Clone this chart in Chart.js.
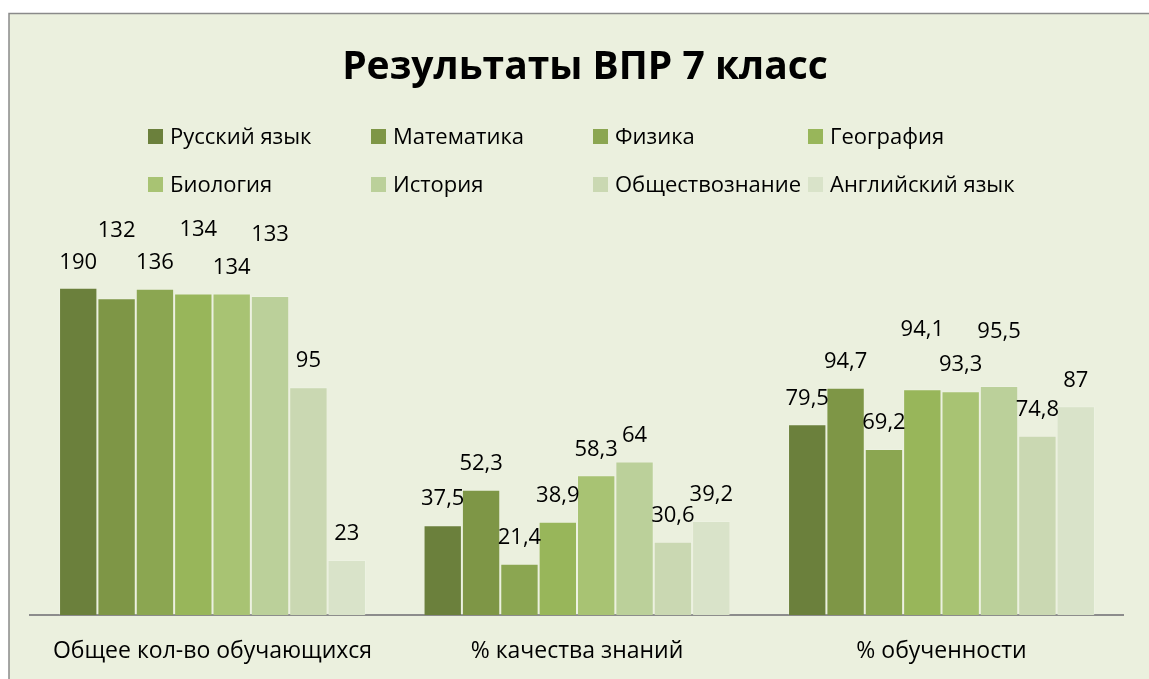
<!DOCTYPE html>
<html>
<head>
<meta charset="utf-8">
<script src="https://cdn.jsdelivr.net/npm/chart.js@4.4.1/dist/chart.umd.min.js"></script>
<style>
  html, body { margin: 0; padding: 0; background: #ffffff; }
  #wrap { width: 1149px; height: 679px; position: relative; }
</style>
</head>
<body>
<div id="wrap"><canvas id="c" width="1149" height="679"></canvas></div>
<script>
// ---- data ----
const chartTitle = 'Результаты ВПР 7 класс';
const categories = ['Общее кол-во обучающихся', '% качества знаний', '% обученности'];
const seriesNames = ['Русский язык', 'Математика', 'Физика', 'География', 'Биология', 'История', 'Обществознание', 'Английский язык'];
const russian   = [190, 37.5, 79.5];
const math      = [132, 52.3, 94.7];
const physics   = [136, 21.4, 69.2];
const geography = [134, 38.9, 94.1];
const biology   = [134, 58.3, 93.3];
const history   = [133, 64, 95.5];
const social    = [95, 30.6, 74.8];
const english   = [23, 39.2, 87];
const axisMin = 0;
const axisMax = 136;

const seriesValues = [russian, math, physics, geography, biology, history, social, english];
const colors = ['#6b803c', '#7e9646', '#8ba651', '#98b65a', '#a8c373', '#bbd09a', '#cad8b2', '#d9e3c9'];

const FONT = "'Open Sans', 'Noto Sans', sans-serif";
const BG = '#ebf0de';

// manual label nudges (dataset index - point index): [dx, dy]
const labelNudges = { '1-0': [0, -42], '3-0': [5, -38], '5-0': [0, -35], '3-2': [0, -34], '5-2': [0, -28] };

const framePlugin = {
  id: 'frame',
  beforeDraw(chart) {
    const ctx = chart.ctx;
    ctx.save();
    ctx.fillStyle = '#ffffff';
    ctx.fillRect(0, 0, chart.width, chart.height);
    ctx.fillStyle = BG;
    ctx.fillRect(9, 13, chart.width - 9, chart.height - 13);
    ctx.strokeStyle = '#8a8a8a';
    ctx.lineWidth = 1.5;
    ctx.beginPath();
    ctx.moveTo(9, chart.height);
    ctx.lineTo(9, 13.5);
    ctx.lineTo(chart.width, 13.5);
    ctx.stroke();
    ctx.restore();
  }
};

const titlePlugin = {
  id: 'freeTitle',
  afterDraw(chart) {
    const ctx = chart.ctx;
    ctx.save();
    ctx.font = 'bold 39px ' + FONT;
    ctx.fillStyle = '#000000';
    ctx.textAlign = 'center';
    ctx.textBaseline = 'alphabetic';
    ctx.fillText(chartTitle, 585, 78.5);
    ctx.restore();
  }
};

const legendPlugin = {
  id: 'gridLegend',
  afterDraw(chart) {
    const ctx = chart.ctx;
    const colX = [148, 371, 593, 808];
    const rowY = [136.5, 184.5];
    ctx.save();
    ctx.font = '22px ' + FONT;
    ctx.textBaseline = 'middle';
    ctx.textAlign = 'left';
    chart.data.datasets.forEach((ds, i) => {
      const x = colX[i % 4];
      const y = rowY[Math.floor(i / 4)];
      ctx.fillStyle = ds.backgroundColor;
      ctx.fillRect(x, y - 7.5, 15, 15);
      ctx.fillStyle = '#000000';
      ctx.fillText(ds.label, x + 22, y + 1);
    });
    ctx.restore();
  }
};

const labelPlugin = {
  id: 'barLabels',
  afterDatasetsDraw(chart) {
    const ctx = chart.ctx;
    const top = chart.chartArea.top;
    ctx.save();
    ctx.font = '22px ' + FONT;
    ctx.fillStyle = '#000000';
    ctx.textAlign = 'center';
    ctx.textBaseline = 'middle';
    chart.data.datasets.forEach((ds, di) => {
      const meta = chart.getDatasetMeta(di);
      meta.data.forEach((bar, pi) => {
        const n = labelNudges[di + '-' + pi] || [0, 0];
        const y = Math.max(bar.y, top) - 27 + n[1];
        const txt = String(ds.data[pi]).replace('.', ',');
        ctx.fillText(txt, bar.x + n[0], y + 1);
      });
    });
    ctx.restore();
  }
};

new Chart(document.getElementById('c'), {
  type: 'bar',
  data: {
    labels: categories,
    datasets: seriesNames.map((name, i) => ({
      label: name,
      data: seriesValues[i],
      backgroundColor: colors[i],
      borderColor: 'rgba(255,255,255,0.14)',
      borderWidth: 1,
      borderSkipped: 'start',
      categoryPercentage: 0.842,
      barPercentage: 1.0,
      clip: 0
    }))
  },
  options: {
    responsive: false,
    animation: false,
    devicePixelRatio: 1,
    layout: { padding: { left: 30.25, right: 25.25, top: 288.7, bottom: 13.8 } },
    plugins: {
      legend: { display: false },
      tooltip: { enabled: false },
      title: { display: false }
    },
    scales: {
      x: {
        z: 1,
        grid: { display: false, drawTicks: false },
        border: { display: true, color: '#8c8c8c', width: 2 },
        ticks: { color: '#000000', font: { family: FONT, size: 23 }, padding: 22, maxRotation: 0 },
        afterFit(scale) { scale.height = 50; }
      },
      y: {
        display: false,
        min: axisMin,
        max: axisMax,
        grid: { display: false }
      }
    }
  },
  plugins: [framePlugin, titlePlugin, legendPlugin, labelPlugin]
});
</script>
</body>
</html>
